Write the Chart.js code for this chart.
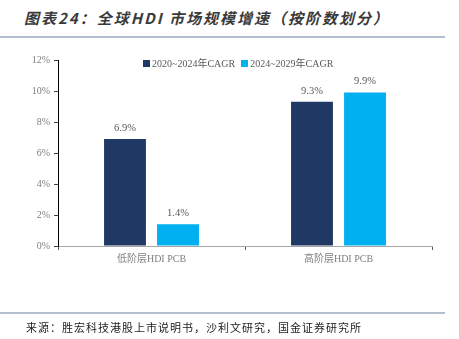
<!DOCTYPE html>
<html>
<head>
<meta charset="utf-8">
<script src="https://cdn.jsdelivr.net/npm/chart.js@4"></script>
<style>
  body { margin: 0; background: #fff; }
  #wrap { position: relative; width: 459px; height: 339px; overflow: hidden; }
  #title {
    position: absolute; left: 24px; top: 7px;
    font: italic bold 15px "Noto Sans CJK SC", sans-serif; color: #3a3a3a;
    letter-spacing: 2px; white-space: nowrap;
  }
  .rule { position: absolute; left: 0; width: 445px; height: 2px; background: #b4c0cf; }
  #legend {
    position: absolute; top: 55px; left: 143px;
    font: 10px "Liberation Serif", "Noto Sans CJK SC", serif; color: #595959;
    white-space: nowrap;
  }
  #legend span.box { display: inline-block; width: 7px; height: 7px; margin-right: 2px; vertical-align: 0px; }
  #legend span.item { margin-right: 6px; }
  #source {
    position: absolute; left: 26px; top: 319px;
    font: 11px "Noto Sans CJK SC", sans-serif; color: #222;
    letter-spacing: 1px; white-space: nowrap;
  }
  canvas { position: absolute; left: 0; top: 0; }
</style>
</head>
<body>
<div id="wrap">
  <div id="title">图表24：全球HDI 市场规模增速（按阶数划分）</div>
  <div class="rule" style="top:36px"></div>
  <canvas id="ResultData" width="459" height="339"></canvas>
  <div id="legend"></div>
  <div class="rule" style="top:312px"></div>
  <div id="source">来源：胜宏科技港股上市说明书，沙利文研究，国金证券研究所</div>
</div>
<script>
const categories = ["低阶层HDI PCB", "高阶层HDI PCB"];
const seriesNames = ["2020~2024年CAGR", "2024~2029年CAGR"];
const cagr2020to2024 = [6.9, 9.3];
const cagr2024to2029 = [1.4, 9.9];
const yTicks = [0, 2, 4, 6, 8, 10, 12];
const colors = ["#1f3864", "#00b0f0"];

const serif = "'Liberation Serif', 'Noto Sans CJK SC', serif";

// legend sits over the top of the plot, so build it as html
const legendBox = document.getElementById("legend");
seriesNames.forEach((name, i) => {
    const item = document.createElement("span");
    item.className = "item";
    item.innerHTML = `<span class="box" style="background:${colors[i]}"></span>${name}`;
    legendBox.appendChild(item);
});

const valueLabels = {
    id: "valueLabels",
    afterDatasetsDraw(chart) {
        const ctx = chart.ctx;
        ctx.save();
        ctx.font = "10.5px " + serif;
        ctx.fillStyle = "#595959";
        ctx.textAlign = "center";
        ctx.textBaseline = "middle";
        chart.data.datasets.forEach((ds, i) => {
            chart.getDatasetMeta(i).data.forEach((bar, j) => {
                ctx.fillText(ds.data[j].toFixed(1) + "%", bar.x, bar.y - 11);
            });
        });
        ctx.restore();
    },
};

const ItemChart = document.getElementById("ResultData");
new Chart(ItemChart, {
    type: "bar",
    data: {
        labels: categories,
        datasets: [
            {
                label: seriesNames[0],
                data: cagr2020to2024,
                backgroundColor: colors[0],
                barPercentage: 0.79,
                categoryPercentage: 0.567,
            },
            {
                label: seriesNames[1],
                data: cagr2024to2029,
                backgroundColor: colors[1],
                barPercentage: 0.79,
                categoryPercentage: 0.567,
            },
        ],
    },
    options: {
        responsive: false,
        animation: false,
        layout: { padding: { left: 0, top: 60, right: 27, bottom: 63 } },
        plugins: {
            legend: { display: false },
            tooltip: { enabled: false },
        },
        scales: {
            x: {
                afterFit: (scale) => { scale.height = 30; },
                grid: {
                    offset: true,
                    drawOnChartArea: false,
                    tickLength: 4,
                    color: "#595959",
                },
                border: { color: "#a6a6a6", width: 1 },
                ticks: {
                    color: "#7f7f7f",
                    font: { family: serif, size: 10 },
                    padding: 3,
                },
            },
            y: {
                min: 0,
                max: 12,
                afterFit: (scale) => { scale.width = 58; },
                afterBuildTicks: (scale) => {
                    scale.ticks = yTicks.map((v) => ({ value: v }));
                },
                grid: {
                    drawOnChartArea: false,
                    tickLength: 4,
                    color: "#404040",
                },
                border: { color: "#000", width: 1 },
                ticks: {
                    color: "#7f7f7f",
                    font: { family: serif, size: 10 },
                    padding: 4,
                    callback: (v) => v + "%",
                },
            },
        },
    },
    plugins: [valueLabels],
});
</script>
</body>
</html>
